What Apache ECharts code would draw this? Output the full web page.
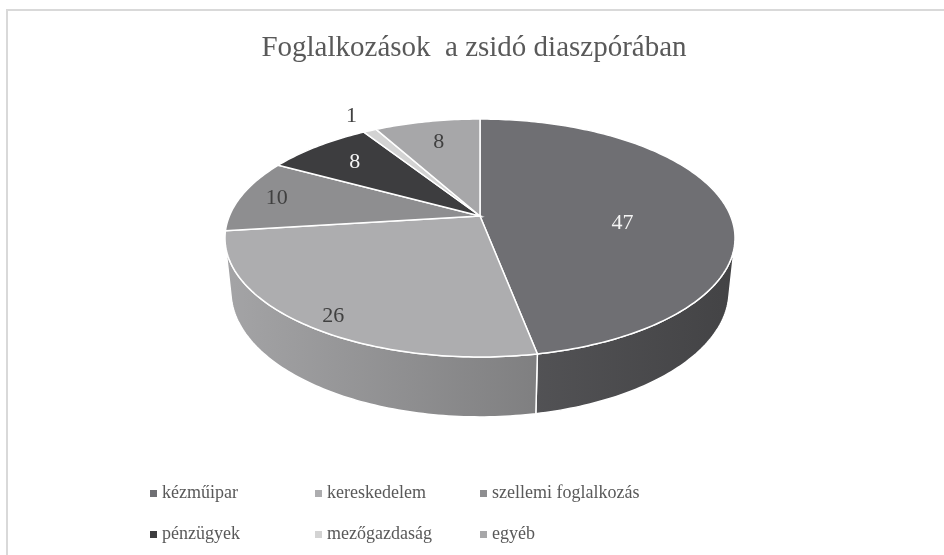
<!DOCTYPE html>
<html>
<head>
<meta charset="utf-8">
<script src="https://cdn.jsdelivr.net/npm/echarts@6/dist/echarts.min.js"></script>
<style>
  html, body { margin: 0; padding: 0; background: #fff; }
  #main { width: 944px; height: 555px; }
</style>
</head>
<body>
<div id="main"></div>
<script>
// adatok
const categories = ['kézműipar', 'kereskedelem', 'szellemi foglalkozás', 'pénzügyek', 'mezőgazdaság', 'egyéb']
const values = [47, 26, 10, 8, 1, 8]

// megjelenés
const topColors = ['#6f6f73', '#adadaf', '#8e8e90', '#3d3d3f', '#d3d3d3', '#a7a7a9']
const labelColors = ['#f4f4f4', '#404040', '#404040', '#f4f4f4', '#404040', '#404040']
const labelRadius = [0.58, 0.87, 0.85, 0.75, 1.2, 0.75]
const labelDrop = [0.06, 0.03, 0, 0, 0, 0]

// 3D vetítés paraméterei (kamera lefelé néz)
const CX = 480, CY = 216, F = 1204.7, DIST = 4.807
const SINA = 0.4585, COSA = 0.8887, THICK = 0.24
const SIL = Math.acos(-1 / (DIST * COSA)) * 180 / Math.PI // látható oldalfal határa

const total = values.reduce((a, b) => a + b, 0)
const startAngles = []
let acc = 0
values.forEach(v => { startAngles.push(acc / total * 360); acc += v })

function proj (deg, r, y) {
  const t = deg * Math.PI / 180
  const X = r * Math.sin(t), Z = r * Math.cos(t)
  const depth = DIST - y * SINA + Z * COSA
  const yc = y * COSA + Z * SINA
  return [CX + F * X / depth, CY - F * yc / depth]
}

function shade (hex, k) {
  const n = parseInt(hex.slice(1), 16)
  const r = Math.round(((n >> 16) & 255) * k)
  const g = Math.round(((n >> 8) & 255) * k)
  const b = Math.round((n & 255) * k)
  return 'rgb(' + r + ',' + g + ',' + b + ')'
}

function arcPoints (a, b, r, y) {
  const pts = []
  const steps = Math.max(2, Math.ceil(b - a))
  for (let i = 0; i <= steps; i++) {
    pts.push(proj(a + (b - a) * i / steps, r, y))
  }
  return pts
}

function renderSlice (idx) {
  return function (params, api) {
    const a = startAngles[idx]
    const b = a + api.value(0) / total * 360
    const color = topColors[idx]
    const children = []

    // oldalfal (csak az elöl látható rész)
    const wa = Math.max(a, SIL), wb = Math.min(b, 360 - SIL)
    if (wb > wa) {
      const topArc = arcPoints(wa, wb, 1, 0)
      const botArc = arcPoints(wa, wb, 1, -THICK).reverse()
      children.push({
        type: 'polygon',
        shape: { points: topArc.concat(botArc) },
        z2: 1,
        style: {
          fill: new echarts.graphic.LinearGradient(225, 0, 735, 0, [
            { offset: 0, color: shade(color, 0.95) },
            { offset: 1, color: shade(color, 0.6) }
          ], true),
          stroke: '#ffffff',
          lineWidth: 1.5
        }
      })
    }

    // felső lap
    const top = [proj(0, 0, 0)].concat(arcPoints(a, b, 1, 0))
    children.push({
      type: 'polygon',
      shape: { points: top },
      z2: 10,
      style: { fill: color, stroke: '#ffffff', lineWidth: 1.5 }
    })

    // címke
    const mid = (a + b) / 2
    const lp = proj(mid, labelRadius[idx], -labelDrop[idx])
    children.push({
      type: 'text',
      z2: 20,
      style: {
        x: lp[0],
        y: lp[1],
        text: String(api.value(0)),
        fill: labelColors[idx],
        font: '22px "Liberation Serif", "Times New Roman", serif',
        align: 'center',
        verticalAlign: 'middle'
      }
    })
    return { type: 'group', children: children }
  }
}

const chart = echarts.init(document.getElementById('main'))

const series = categories.map((name, i) => ({
  type: 'custom',
  name: name,
  coordinateSystem: 'none',
  itemStyle: { color: topColors[i] },
  silent: true,
  animation: false,
  data: [[values[i]]],
  renderItem: renderSlice(i)
}))

chart.setOption({
  backgroundColor: '#ffffff',
  title: {
    text: 'Foglalkozások  a zsidó diaszpórában',
    left: 469,
    top: 29,
    textAlign: 'center',
    textStyle: {
      fontFamily: '"Liberation Serif", "Times New Roman", serif',
      fontSize: 29,
      fontWeight: 'normal',
      color: '#595959'
    }
  },
  legend: {
    left: 150,
    top: 483,
    width: 500,
    padding: 0,
    icon: 'rect',
    itemWidth: 7,
    itemHeight: 7,
    itemGap: 20,
    selectedMode: false,
    data: categories,
    textStyle: {
      fontFamily: '"Liberation Serif", "Times New Roman", serif',
      fontSize: 18,
      color: '#595959',
      width: 133,
      lineHeight: 21
    }
  },
  graphic: [{
    type: 'rect',
    shape: { x: 7, y: 10, width: 1000, height: 600 },
    style: { fill: 'none', stroke: '#d9d9d9', lineWidth: 2 },
    silent: true
  }],
  series: series
})
</script>
</body>
</html>
